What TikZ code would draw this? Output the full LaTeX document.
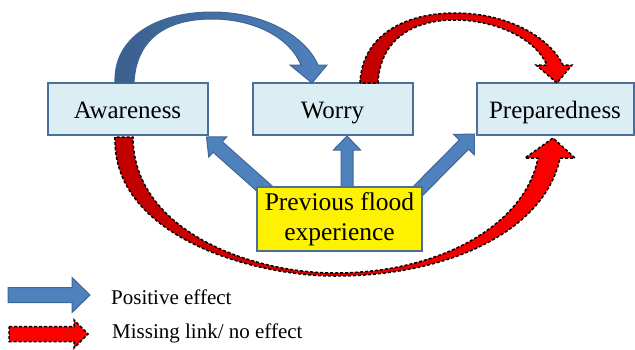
\documentclass[tikz,border=0pt]{standalone}
\usepackage{fontspec}
\setmainfont{Liberation Serif}
\usetikzlibrary{calc}
\definecolor{boxfill}{HTML}{DBEEF4}
\definecolor{boxline}{HTML}{4A6F9C}
\definecolor{arrfill}{HTML}{4F81BD}
\definecolor{arrline}{HTML}{3D6797}
\definecolor{arrdark}{HTML}{3A5F8E}
\definecolor{reddark}{HTML}{C00000}
\definecolor{redbright}{HTML}{FF0000}
\newcommand\blockarrow[6]{%
  \coordinate (tmpH) at ($(#3)!#6!(#2)$);
  \path[#1] ($(#2)!#4!90:(#3)$) -- ($(tmpH)!#4!90:(#3)$) -- ($(tmpH)!#5!90:(#3)$) -- (#3)
    -- ($(tmpH)!#5!-90:(#3)$) -- ($(tmpH)!#4!-90:(#3)$) -- ($(#2)!#4!-90:(#3)$) -- cycle;
}
\begin{document}
\begin{tikzpicture}[x=1pt,y=-1pt,
  box/.style={draw=boxline, line width=2pt, fill=boxfill, minimum height=52pt, inner sep=0pt,
    text height=18pt, text depth=0pt, font=\fontsize{25}{29}\selectfont},
  posarrow/.style={fill=arrfill, draw=arrline, line width=1pt, line join=miter},
  nolink/.style={draw=black, line width=1.5pt, dash pattern=on 3pt off 2pt, line join=miter},
  legtext/.style={anchor=west, inner sep=0pt, font=\fontsize{21}{25}\selectfont}]
\useasboundingbox (0,0) rectangle (635,349);

% boxes
\node[box, minimum width=160pt] (aware) at (127.5,109) {Awareness};
\node[box, minimum width=160pt] (worry) at (332.5,109) {Worry};
\node[box, minimum width=157pt] (prep) at (555,109) {Preparedness};

% curved positive arrow Awareness -> Worry
\path[left color=arrdark, right color=arrfill, draw=arrline, line width=1pt, line join=miter]
  (115,83) .. controls (113,35) and (160,12) .. (212,12)
  .. controls (262,12) and (305,35) .. (318,65)
  -- (327,65) -- (312,83) -- (290,65) -- (301,65)
  .. controls (290,38) and (255,19) .. (212,19)
  .. controls (165,19) and (136,40) .. (134,83) -- cycle;

% curved missing link Worry -> Preparedness
\path[left color=reddark, right color=redbright, nolink]
  (360,83) .. controls (362,35) and (405,13) .. (455,13)
  .. controls (505,13) and (548,35) .. (563,65)
  -- (572,65) -- (557,83) -- (536,65) -- (547,65)
  .. controls (535,38) and (495,20) .. (455,20)
  .. controls (412,20) and (380,40) .. (378,83) -- cycle;

% curved missing link Awareness -> Preparedness (bottom)
\path[left color=reddark, right color=redbright, nolink]
  (115,137) .. controls (112,235) and (250,276) .. (335,276)
  .. controls (450,276) and (545,230) .. (560,158)
  -- (575,158) -- (553,138) -- (525,158) -- (538,158)
  .. controls (525,225) and (440,273) .. (335,273)
  .. controls (250,273) and (133,230) .. (133,137) -- cycle;

% previous flood experience box (placed, arrows drawn before its fill)
\path (339.5,219) node[minimum width=165pt, minimum height=64pt, inner sep=0pt] (prev) {};

\coordinate (t1) at ($(aware.south east)+(-2,1)$);
\coordinate (s1) at ($(prev.north west)+(17,10)$);
\coordinate (t2) at ($(worry.south)+(14.5,0)$);
\coordinate (s2) at ($(prev.north)+(7.5,14)$);
\coordinate (t3) at ($(prep.south west)+(-1,-2)$);
\coordinate (s3) at ($(prev.north east)+(-8,8)$);

\blockarrow{posarrow}{s1}{t1}{7pt}{13.5pt}{15pt}
\blockarrow{posarrow}{s2}{t2}{6pt}{13.5pt}{14pt}
\blockarrow{posarrow}{s3}{t3}{6.5pt}{14.5pt}{15pt}

\node[draw=boxline, line width=2pt, fill=yellow, minimum width=165pt, minimum height=64pt,
  inner sep=0pt, align=center, font=\fontsize{25.5}{30}\selectfont] at (prev) {Previous flood\\experience};

% legend
\coordinate (la) at (8,295);
\coordinate (lb) at (90,295);
\coordinate (ma) at (9,334);
\coordinate (mb) at (88,334);
\blockarrow{posarrow}{la}{lb}{7.5pt}{17.5pt}{18pt}
\blockarrow{fill=redbright, nolink}{ma}{mb}{7.5pt}{14pt}{14pt}
\node[legtext] (pos) at (111,297) {Positive effect};
\node[legtext] (mis) at (112,333) {Missing link/ no effect};
\end{tikzpicture}
\end{document}
